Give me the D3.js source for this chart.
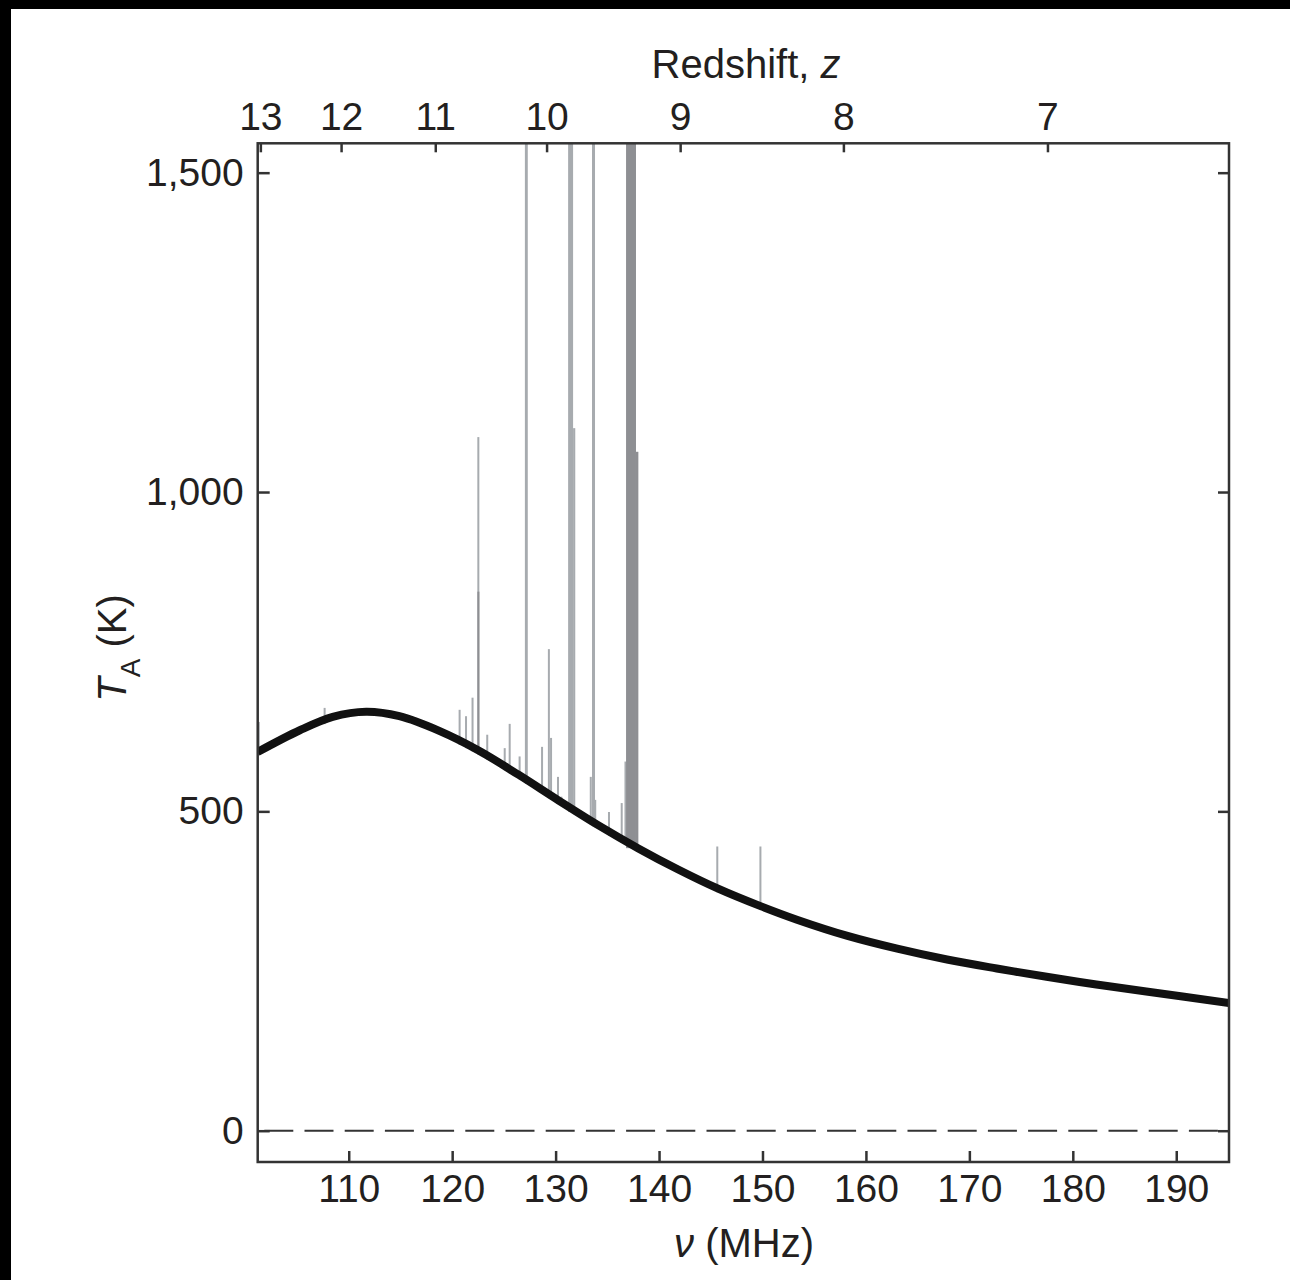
<!DOCTYPE html>
<html>
<head>
<meta charset="utf-8">
<script src="https://cdn.jsdelivr.net/npm/d3@7/dist/d3.min.js"></script>
<style>
  html, body { margin: 0; padding: 0; background: #000; }
  svg { display: block; }
  text { font-family: "Liberation Sans", Arial, Helvetica, sans-serif; fill: #231f20; }
</style>
</head>
<body>
<svg id="chart" width="1290" height="1280"></svg>
<script>
// ---------- data ----------
// Smooth antenna temperature (black curve)
const curveFreq = [101.2, 105.27, 108.45, 111.69, 114.9, 118.75, 122.6, 126.45, 130.3, 134.15, 138.0, 141.85, 145.71, 149.75, 153.4, 158.22, 163.03, 167.84, 172.65, 177.47, 182.28, 187.1, 195.1];
const curveTemp = [593, 627, 648, 656, 649, 626, 595, 557, 517, 478, 442, 409, 379, 352, 330, 305, 285, 268, 254, 241, 229, 218, 200];

// RFI spikes in the raw spectrum (grey): low freq, high freq, peak temperature (K)
const spikeLo   = [101.28, 107.64, 120.69, 121.31, 121.94, 122.50, 122.45, 123.36, 125.05, 125.53, 126.49, 127.03, 128.66, 129.30, 129.53, 130.20, 130.53, 131.21, 131.69, 133.37, 133.52, 133.80, 135.13, 136.36, 136.70, 136.81, 137.77, 145.60, 149.77];
const spikeHi   = [101.33, 107.70, 120.75, 121.37, 122.00, 122.56, 122.62, 123.42, 125.11, 125.59, 126.55, 127.31, 128.72, 129.40, 129.59, 130.26, 130.59, 131.69, 131.90, 133.43, 133.81, 133.86, 135.19, 136.42, 136.81, 137.77, 138.00, 145.66, 149.83];
const spikeTemp = [640, 662, 659, 649, 678, 1086, 844, 620, 599, 637, 586, 2000, 601, 754, 615, 554, 523, 2000, 1100, 554, 2000, 518, 499, 513, 578, 2000, 1063, 445, 445];
const spikeDark = [0, 0, 0, 0, 0, 0, 1, 0, 0, 0, 0, 0, 0, 0, 0, 0, 0, 0, 0, 0, 0, 0, 0, 0, 0, 1, 1, 0, 0];

// axes
const freqTicks = [110, 120, 130, 140, 150, 160, 170, 180, 190];
const tempTicks = [0, 500, 1000, 1500];
const tempTickLabels = ["0", "500", "1,000", "1,500"];
const zTicks = [13, 12, 11, 10, 9, 8, 7];
const nuHI = 1420.4; // MHz
const xDomain = [101.2, 195.1];
const yDomain = [-49, 1546];

// ---------- layout ----------
const L = 257.7, R = 1229, T = 143.3, B = 1162;
const FS = 39;

const svg = d3.select("#chart");
svg.append("rect").attr("x", 0).attr("y", 0).attr("width", 1290).attr("height", 1280).attr("fill", "#000");
svg.append("rect").attr("x", 11).attr("y", 9).attr("width", 1279).attr("height", 1271).attr("fill", "#fff");

const x = d3.scaleLinear().domain(xDomain).range([L, R]);
const y = d3.scaleLinear().domain(yDomain).range([B, T]);
const baseAt = d3.scaleLinear().domain(curveFreq).range(curveTemp).clamp(true);

svg.append("defs").append("clipPath").attr("id", "plotclip")
  .append("rect").attr("x", L).attr("y", T).attr("width", R - L).attr("height", B - T);

const plot = svg.append("g").attr("clip-path", "url(#plotclip)");

// zero dashed line
plot.append("line")
  .attr("x1", x(xDomain[0])).attr("x2", x(xDomain[1]))
  .attr("y1", y(0)).attr("y2", y(0))
  .attr("stroke", "#333").attr("stroke-width", 2)
  .attr("stroke-dasharray", "29 11.2").attr("stroke-dashoffset", 33.6);

// spikes
const spikes = spikeLo.map((lo, i) => ({lo, hi: spikeHi[i], t: spikeTemp[i], dark: spikeDark[i]}));
plot.selectAll("rect.spike").data(spikes).join("rect")
  .attr("class", "spike")
  .attr("x", d => { const w = x(d.hi) - x(d.lo); return w < 2 ? (x(d.lo) + x(d.hi)) / 2 - 1 : x(d.lo); })
  .attr("width", d => Math.max(2, x(d.hi) - x(d.lo)))
  .attr("y", d => y(d.t))
  .attr("height", d => Math.max(0, y(baseAt((d.lo + d.hi) / 2)) - y(d.t) + 4))
  .attr("fill", d => d.dark ? "#8e8f93" : "#a7abaf");

// smooth curve
const line = d3.line().x((d, i) => x(curveFreq[i])).y((d, i) => y(curveTemp[i])).curve(d3.curveCatmullRom.alpha(0.5));
plot.append("path").datum(curveTemp)
  .attr("d", line)
  .attr("fill", "none").attr("stroke", "#111").attr("stroke-width", 8)
  .attr("stroke-linejoin", "round");

// ---------- axes ----------
function styleAxis(g) {
  g.select(".domain").remove();
  g.selectAll(".tick line").attr("stroke", "#333").attr("stroke-width", 2.5);
  g.selectAll(".tick text").attr("fill", "#231f20").style("font-size", FS + "px")
    .style("font-family", "'Liberation Sans', Arial, Helvetica, sans-serif");
}

// bottom
const gB = svg.append("g").attr("transform", `translate(0,${B})`)
  .call(d3.axisBottom(x).tickValues(freqTicks).tickSize(-11).tickPadding(12).tickFormat(d3.format("d")));
styleAxis(gB);

// top (redshift)
const gT = svg.append("g").attr("transform", `translate(0,${T})`)
  .call(d3.axisTop(x).tickValues(zTicks.map(z => nuHI / (1 + z))).tickSize(-9).tickPadding(13)
    .tickFormat((d, i) => String(zTicks[i])));
styleAxis(gT);

// left
const gL = svg.append("g").attr("transform", `translate(${L},0)`)
  .call(d3.axisLeft(y).tickValues(tempTicks).tickSize(-12).tickPadding(14)
    .tickFormat((d, i) => tempTickLabels[i]));
styleAxis(gL);

// right
const gR = svg.append("g").attr("transform", `translate(${R},0)`)
  .call(d3.axisRight(y).tickValues(tempTicks).tickSize(-11).tickFormat(""));
styleAxis(gR);

// frame
svg.append("rect").attr("x", L).attr("y", T).attr("width", R - L).attr("height", B - T)
  .attr("fill", "none").attr("stroke", "#333").attr("stroke-width", 2.5);

// ---------- titles ----------
const topTitle = svg.append("text").attr("x", 746).attr("y", 78).attr("text-anchor", "middle")
  .style("font-size", "40px");
topTitle.append("tspan").text("Redshift, ");
topTitle.append("tspan").style("font-style", "italic").text("z");

const botTitle = svg.append("text").attr("x", 744).attr("y", 1257).attr("text-anchor", "middle")
  .style("font-size", "40px");
botTitle.append("tspan").style("font-style", "italic").text("ν");
botTitle.append("tspan").text(" (MHz)");

const yTitle = svg.append("text").attr("transform", "translate(126,648) rotate(-90)")
  .attr("text-anchor", "middle").style("font-size", "40px");
yTitle.append("tspan").style("font-style", "italic").text("T");
yTitle.append("tspan").attr("dy", 14).style("font-size", "28px").text("A");
yTitle.append("tspan").attr("dy", -14).text(" (K)");
</script>
</body>
</html>
